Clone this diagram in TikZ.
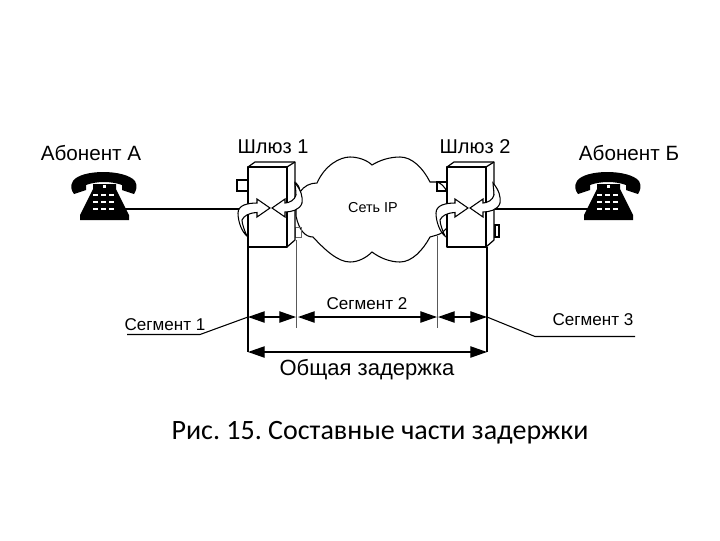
\documentclass[tikz,border=0pt]{standalone}
\usepackage{fontspec}
\setmainfont{Liberation Sans}
\newfontfamily\capfont{Carlito}
\usetikzlibrary{arrows.meta}
\tikzset{
  lbl/.style={inner sep=0pt,font=\fontsize{15.5}{18}\selectfont},
  gwlbl/.style={inner sep=0pt,font=\fontsize{15}{18}\selectfont},
  seglbl/.style={inner sep=0pt,font=\fontsize{12.8}{15}\selectfont},
  thickline/.style={line width=1.0pt,black},
  thinline/.style={line width=0.6pt,black!65},
  face/.style={draw=black,line width=0.9pt,fill=white,line join=round},
  swoosh/.style={draw=black,line width=0.8pt,fill=white,line join=miter},
  dim/.style={line width=0.9pt,{Triangle[length=12.5pt,width=8.5pt]}-{Triangle[length=12.5pt,width=8.5pt]}},
  pics/phone/.style={code={
    \fill[black] (-30,-14) .. controls (-22,-26) and (22,-26) .. (32,-14)
      .. controls (35,-9) and (33,-4) .. (31,-1) -- (19,-5) -- (19,-10)
      .. controls (8,-14) and (-6,-14) .. (-17,-10) -- (-17,-5) -- (-29,-1)
      .. controls (-32,-5) and (-33,-9) .. (-30,-14) -- cycle;
    \fill[black] (-10,-11) -- (13,-11) -- (13,-6) -- (26,20) -- (26,25) -- (-23,25) -- (-23,20) -- (-10,-6) -- cycle;
    \fill[white] (0,-10) rectangle (3,-7);
    \foreach \yy in {0,7,14}{\foreach \xx in {-8,0,8}{
      \fill[white] (\xx-2.5,\yy-1.4) rectangle (\xx+2.5,\yy+1.4);}}
  }}
}
\newcommand{\gatewayshape}[1]{%
  \begin{scope}[shift={(#1,0)}]
    \path[face] (0,167) -- (7,162) -- (47,162) -- (47,240) -- (39,247) -- (39,167) -- cycle;
    \path[face] (39,167) -- (47,162);
    \path[face] (0,167) rectangle (39,247);
  \end{scope}}
\newcommand{\swooshes}[1]{%
  \begin{scope}[shift={(#1,0)}]
    \path[swoosh] (-10,213) .. controls (-10,222) and (-6,232) .. (-1,236)
      .. controls (-3,232) and (-6,224) .. (-6,220) .. controls (-4,216) and (0,213) .. (9,212.5)
      -- (9,217) -- (22,208) -- (9,199) -- (9,203) .. controls (0,203) and (-10,205) .. (-10,213) -- cycle;
    \path[swoosh] (24,208) -- (37,199) -- (37,203) .. controls (41,203) and (47,200) .. (48,195)
      .. controls (48,190) and (47,186) .. (47,183) .. controls (53,190) and (55,197) .. (54,203)
      .. controls (52,210) and (43,212) .. (37,212) -- (37,217) -- cycle;
  \end{scope}}
\begin{document}
\frenchspacing
\begin{tikzpicture}[x=0.75pt,y=-0.75pt]
\useasboundingbox (0,0) rectangle (720,540);
\fill[white] (0,0) rectangle (720,540);

% wires
\coordinate (wireAa) at (125,209);
\coordinate (wireAb) at (248,209);
\coordinate (wireBa) at (495,209);
\coordinate (wireBb) at (590,209);
\draw[line width=0.8pt] (wireAa) -- (wireAb);
\draw[line width=1.1pt] (wireBa) -- (wireBb);

% phones
\pic at (103,195) {phone};
\pic at (607,195) {phone};

% cloud
\draw[line width=0.8pt,fill=white]
  (296,183) .. controls (299,186) and (300,189) .. (300,192)
  .. controls (304,186) and (310,183) .. (317,183)
  .. controls (325,165) and (340,157) .. (350,157)
  .. controls (358,157) and (367,160) .. (372,165)
  .. controls (380,160) and (390,157) .. (400,157)
  .. controls (412,157) and (423,168) .. (430,182)
  -- (437,182) .. controls (441,183) and (445,187) .. (447,192)
  -- (447,228) .. controls (444,231) and (441,234) .. (437,235) -- (430,237)
  .. controls (423,250) and (412,262) .. (400,262)
  .. controls (390,262) and (380,258) .. (372,252)
  .. controls (366,258) and (358,262) .. (350,262)
  .. controls (338,262) and (325,250) .. (313,237)
  .. controls (305,237) and (299,230) .. (296,216)
  -- cycle;

% ports
\draw[line width=0.9pt] (237,180) rectangle (248,191);
\draw[line width=0.7pt,black!60] (295,227) rectangle (301,237);
\draw[line width=0.9pt] (437,182) rectangle (447,191);
\draw[line width=0.9pt] (495,225) rectangle (499,237);

% gateways
\gatewayshape{248}
\gatewayshape{447}
\swooshes{248}
\swooshes{446}

% vertical guides
\coordinate (v1a) at (248,247); \coordinate (v1b) at (248,352);
\coordinate (v2a) at (296,240); \coordinate (v2b) at (296,328);
\coordinate (v3a) at (437,236); \coordinate (v3b) at (437,328);
\coordinate (v4a) at (487,247); \coordinate (v4b) at (487,352);
\draw[thickline] (v1a) -- (v1b);
\draw[thinline] (v2a) -- (v2b);
\draw[thinline] (v3a) -- (v3b);
\draw[thickline] (v4a) -- (v4b);

% dimension arrows
\coordinate (d1) at (248,317); \coordinate (d2) at (296,317);
\coordinate (d2b) at (298,317); \coordinate (d3) at (437,317);
\coordinate (d3b) at (438,317); \coordinate (d4) at (487,317);
\coordinate (t1) at (248,352); \coordinate (t2) at (487,352);
\draw[dim] (d1) -- (d2);
\draw[dim] (d2b) -- (d3);
\draw[dim] (d3b) -- (d4);
\draw[dim] (t1) -- (t2);

% leaders
\coordinate (la) at (127,334.5); \coordinate (lb) at (200,334.5);
\coordinate (ra) at (487,317); \coordinate (rb) at (535,336.5); \coordinate (rc) at (635,336.5);
\draw[line width=0.8pt] (la) -- (lb) -- (d1);
\draw[line width=0.8pt] (ra) -- (rb) -- (rc);

% labels
\node[lbl] (abA) at (91,153) {Абонент А};
\node[lbl] (abB) at (629,153) {Абонент Б};
\node[gwlbl] (gw1) at (273,147) {Шлюз 1};
\node[gwlbl] (gw2) at (475,147) {Шлюз 2};
\node[inner sep=0pt,font=\fontsize{10.8}{13}\selectfont] (net) at (373,208) {Сеть IP};
\node[seglbl] (s1) at (165,325) {Сегмент 1};
\node[seglbl] (s2) at (367,304) {Сегмент 2};
\node[seglbl] (s3) at (593,320) {Сегмент 3};
\node[inner sep=0pt,font=\fontsize{16.5}{20}\selectfont] (tot) at (367,370) {Общая задержка};
\node[inner sep=0pt,font=\capfont\fontsize{21}{25}\selectfont] (cap) at (380,433) {Рис. 15. Составные части задержки};
\end{tikzpicture}
\end{document}
